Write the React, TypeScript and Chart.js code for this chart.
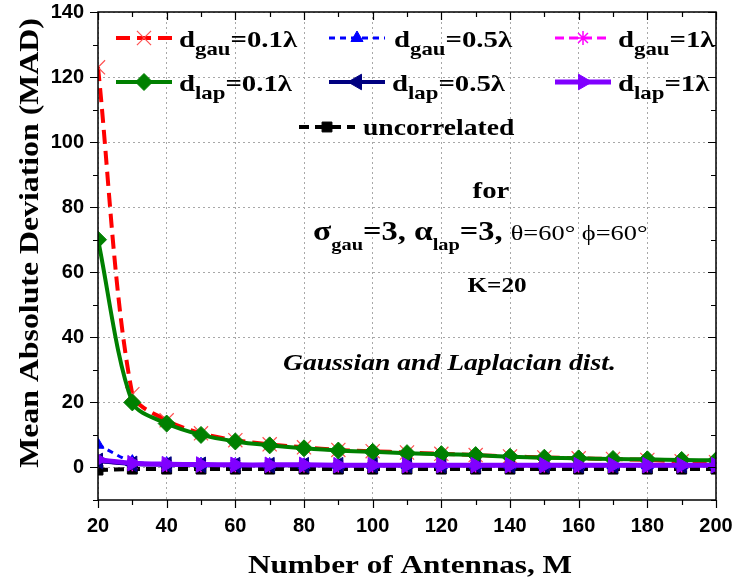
import React, { useEffect, useRef } from 'react';
import { Chart, registerables } from 'chart.js';
import { drawPoint } from 'chart.js/helpers';

Chart.register(...registerables);

// ---------------- data ----------------
const antennas = [20, 30, 40, 50, 60, 70, 80, 90, 100, 110, 120, 130, 140, 150, 160, 170, 180, 190, 200];

const gau01 = [123, 22.5, 14.5, 10.5, 8.4, 7.1, 6.2, 5.4, 5.0, 4.6, 4.2, 3.8, 3.4, 3.1, 2.8, 2.6, 2.3, 1.9, 1.6];
const gau05 = [7.0, 1.8, 1.2, 1.0, 0.9, 0.9, 0.8, 0.8, 0.8, 0.8, 0.7, 0.7, 0.7, 0.7, 0.7, 0.7, 0.7, 0.7, 0.7];
const gau1 = [1.8, 1.0, 0.8, 0.7, 0.7, 0.6, 0.6, 0.6, 0.6, 0.6, 0.6, 0.6, 0.6, 0.6, 0.6, 0.6, 0.6, 0.6, 0.6];
const lap01 = [70, 20, 13.5, 10, 8, 6.8, 5.9, 5.2, 4.8, 4.4, 4.1, 3.8, 3.3, 3.0, 2.8, 2.6, 2.5, 2.3, 2.2];
const lap05 = [2.0, 1.1, 0.9, 0.8, 0.7, 0.7, 0.7, 0.7, 0.7, 0.7, 0.7, 0.7, 0.7, 0.7, 0.7, 0.7, 0.7, 0.7, 0.7];
const lap1 = [2.4, 1.3, 1.0, 0.9, 0.8, 0.8, 0.8, 0.7, 0.7, 0.7, 0.7, 0.7, 0.7, 0.7, 0.7, 0.7, 0.7, 0.7, 0.7];
const uncorr = [-0.8, -0.5, -0.5, -0.5, -0.5, -0.5, -0.5, -0.5, -0.5, -0.5, -0.5, -0.5, -0.5, -0.5, -0.5, -0.5, -0.5, -0.5, -0.5];

const xTicks = [20, 40, 60, 80, 100, 120, 140, 160, 180, 200];
const yTicks = [0, 20, 40, 60, 80, 100, 120, 140];
const X_MIN = 20, X_MAX = 200, Y_MIN = -10, Y_MAX = 140;

const xTitle = 'Number of Antennas, M';
const yTitle = 'Mean Absolute Deviation (MAD)';

// ---------------- styles ----------------
const SERIF = '"Liberation Serif", "Times New Roman", serif';
const SANS = '"Liberation Sans", Arial, sans-serif';
const SX = 1.2; // horizontal stretch of text in the reference

type Series = {
  sub: string; rest: string; data: number[]; color: string; markFill: string; markColor: string;
  markBorder: number; dash: number[]; width: number; style: string; radius: number; rot: number; order: number;
};

const series: Series[] = [
  { sub: 'gau', rest: '=0.1λ', data: gau01, color: '#ff0000', markFill: 'rgba(0,0,0,0)', markColor: '#ff5050', markBorder: 1.2, dash: [14, 7], width: 4, style: 'crossRot', radius: 10, rot: 0, order: 6 },
  { sub: 'gau', rest: '=0.5λ', data: gau05, color: '#0000ff', markFill: '#0000ff', markColor: '#0000ff', markBorder: 1, dash: [6, 5], width: 3, style: 'triangle', radius: 7, rot: 0, order: 4 },
  { sub: 'gau', rest: '=1λ', data: gau1, color: '#ff00ff', markFill: '#ff00ff', markColor: '#ff00ff', markBorder: 1.5, dash: [9, 5], width: 3, style: 'star', radius: 7, rot: 0, order: 3 },
  { sub: 'lap', rest: '=0.1λ', data: lap01, color: '#008000', markFill: '#008000', markColor: '#008000', markBorder: 1, dash: [], width: 4, style: 'rectRot', radius: 8.5, rot: 0, order: 1 },
  { sub: 'lap', rest: '=0.5λ', data: lap05, color: '#000080', markFill: '#000080', markColor: '#000080', markBorder: 1, dash: [], width: 4, style: 'triangle', radius: 9, rot: -90, order: 2 },
  { sub: 'lap', rest: '=1λ', data: lap1, color: '#8000ff', markFill: '#8000ff', markColor: '#8000ff', markBorder: 1, dash: [], width: 5, style: 'triangle', radius: 9, rot: 90, order: 0 },
  { sub: '', rest: 'uncorrelated', data: uncorr, color: '#000000', markFill: '#000000', markColor: '#000000', markBorder: 1, dash: [10, 6], width: 4, style: 'rect', radius: 7, rot: 0, order: 5 },
];

// legend slot positions (line start x, line y, text x)
const legendSlots = [
  { x: 116, y: 38, tx: 179 },
  { x: 329, y: 38, tx: 394 },
  { x: 555, y: 38, tx: 618 },
  { x: 116, y: 82, tx: 179 },
  { x: 329, y: 82, tx: 392 },
  { x: 555, y: 82, tx: 618 },
  { x: 299, y: 127, tx: 363 },
];

type Run = { t: string; font: string; dy?: number };

function measureRuns(ctx: CanvasRenderingContext2D, parts: Run[]) {
  let total = 0;
  for (const p of parts) {
    ctx.font = p.font;
    total += ctx.measureText(p.t).width * SX;
  }
  return total;
}

function drawRuns(ctx: CanvasRenderingContext2D, parts: Run[], x: number, y: number, align: 'left' | 'center' = 'left') {
  const total = measureRuns(ctx, parts);
  let cx = align === 'center' ? x - total / 2 : x;
  ctx.textAlign = 'left';
  ctx.textBaseline = 'alphabetic';
  for (const p of parts) {
    ctx.font = p.font;
    const w = ctx.measureText(p.t).width * SX;
    ctx.save();
    ctx.translate(cx, y + (p.dy || 0));
    ctx.scale(SX, 1);
    ctx.fillText(p.t, 0, 0);
    ctx.restore();
    cx += w;
  }
  return total;
}

const decorPlugin = {
  id: 'decor',
  afterDraw(chart: any) {
    const ctx: CanvasRenderingContext2D = chart.ctx;
    const { left, right, top, bottom } = chart.chartArea;
    const xs = chart.scales.x;
    const ys = chart.scales.y;
    ctx.save();
    // frame
    ctx.setLineDash([]);
    ctx.strokeStyle = '#000';
    ctx.lineWidth = 1.5;
    ctx.strokeRect(left, top, right - left, bottom - top);
    // tick marks
    ctx.lineWidth = 1.2;
    ctx.beginPath();
    for (let v = X_MIN; v <= X_MAX; v += 10) {
      const px = Math.round(xs.getPixelForValue(v)) + 0.5;
      const len = v % 20 === 0 ? 8 : 5;
      ctx.moveTo(px, bottom); ctx.lineTo(px, bottom + len);
      ctx.moveTo(px, top); ctx.lineTo(px, top + len);
    }
    for (let v = Y_MIN; v <= Y_MAX; v += 10) {
      const py = Math.round(ys.getPixelForValue(v)) + 0.5;
      const len = v % 20 === 0 ? 8 : 5;
      ctx.moveTo(left - len, py); ctx.lineTo(left, py);
      ctx.moveTo(right - len, py); ctx.lineTo(right, py);
    }
    ctx.stroke();

    ctx.fillStyle = '#000';
    // axis titles
    drawRuns(ctx, [{ t: xTitle, font: `bold 26px ${SERIF}` }], 410, 573, 'center');
    ctx.save();
    ctx.translate(38, 243);
    ctx.rotate(-Math.PI / 2);
    drawRuns(ctx, [{ t: yTitle, font: `bold 26.5px ${SERIF}` }], 0, 0, 'center');
    ctx.restore();

    // legend
    series.forEach((s, i) => {
      const slot = legendSlots[i];
      ctx.save();
      ctx.strokeStyle = s.color;
      ctx.lineWidth = s.width;
      ctx.setLineDash(s.dash);
      ctx.beginPath();
      ctx.moveTo(slot.x, slot.y);
      ctx.lineTo(slot.x + 56, slot.y);
      ctx.stroke();
      ctx.setLineDash([]);
      ctx.fillStyle = s.markFill;
      ctx.strokeStyle = s.markColor;
      ctx.lineWidth = s.markBorder;
      drawPoint(ctx, { pointStyle: s.style as any, rotation: s.rot, radius: s.radius, borderWidth: s.markBorder }, slot.x + 28, slot.y);
      ctx.restore();
      ctx.fillStyle = '#000';
      if (s.sub) {
        drawRuns(ctx, [
          { t: 'd', font: `bold 24px ${SERIF}` },
          { t: s.sub, font: `bold 19px ${SERIF}`, dy: 8 },
          { t: s.rest, font: `bold 24px ${SERIF}` },
        ], slot.tx, slot.y + 9);
      } else {
        drawRuns(ctx, [{ t: s.rest, font: `bold 23px ${SERIF}` }], slot.tx, slot.y + 8);
      }
    });

    // annotations
    ctx.fillStyle = '#000';
    drawRuns(ctx, [{ t: 'for', font: `bold 24px ${SERIF}` }], 491, 198, 'center');
    drawRuns(ctx, [
      { t: 'σ', font: `bold 28px ${SERIF}` },
      { t: 'gau', font: `bold 17px ${SERIF}`, dy: 10 },
      { t: '=3, ', font: `bold 27px ${SERIF}` },
      { t: 'α', font: `bold 28px ${SERIF}` },
      { t: 'lap', font: `bold 17px ${SERIF}`, dy: 10 },
      { t: '=3, ', font: `bold 27px ${SERIF}` },
      { t: 'θ=60° ϕ=60°', font: `22px ${SERIF}` },
    ], 313, 240);
    drawRuns(ctx, [{ t: 'K=20', font: `bold 21px ${SERIF}` }], 497, 292, 'center');
    drawRuns(ctx, [{ t: 'Gaussian and Laplacian dist.', font: `italic bold 23px ${SERIF}` }], 283, 370);
    ctx.restore();
  },
};

function zeroPad(scale: any) {
  scale.paddingTop = 0;
  scale.paddingBottom = 0;
  scale.paddingLeft = 0;
  scale.paddingRight = 0;
}

export default function App() {
  const ref = useRef<HTMLCanvasElement | null>(null);
  useEffect(() => {
    if (!ref.current) return;
    const chart = new Chart(ref.current, {
      type: 'line',
      data: {
        datasets: series.map((s) => ({
          label: s.sub ? `d${s.sub}${s.rest}` : s.rest,
          data: antennas.map((x, i) => ({ x, y: s.data[i] })),
          borderColor: s.color,
          backgroundColor: s.markFill,
          borderWidth: s.width,
          borderDash: s.dash,
          pointStyle: s.style as any,
          pointRadius: s.radius,
          pointRotation: s.rot,
          pointBackgroundColor: s.markFill,
          pointBorderColor: s.markColor,
          pointBorderWidth: s.markBorder,
          tension: 0.3,
          order: s.order,
          clip: 0,
          fill: false,
        })),
      },
      options: {
        responsive: false,
        animation: false,
        layout: { autoPadding: false, padding: { top: 12, right: 19, left: 0, bottom: 0 } },
        plugins: { legend: { display: false }, tooltip: { enabled: false } },
        scales: {
          x: {
            type: 'linear',
            min: X_MIN,
            max: X_MAX,
            afterBuildTicks: (scale: any) => { scale.ticks = xTicks.map((v) => ({ value: v })); },
            afterFit: (scale: any) => { scale.height = 78; zeroPad(scale); },
            grid: { color: '#a8a8a8', lineWidth: 1, drawTicks: false },
            border: { display: false, dash: [2, 3] },
            ticks: { padding: 14, color: '#000', font: { family: SANS, size: 20, weight: 'bold' }, maxRotation: 0, autoSkip: false },
          },
          y: {
            type: 'linear',
            min: Y_MIN,
            max: Y_MAX,
            afterBuildTicks: (scale: any) => { scale.ticks = yTicks.map((v) => ({ value: v })); },
            afterFit: (scale: any) => { scale.width = 98; zeroPad(scale); },
            grid: { color: '#a8a8a8', lineWidth: 1, drawTicks: false },
            border: { display: false, dash: [2, 3] },
            ticks: { padding: 14, color: '#000', font: { family: SANS, size: 20, weight: 'bold' }, autoSkip: false },
          },
        },
      },
      plugins: [decorPlugin],
    } as any);
    return () => chart.destroy();
  }, []);
  return (
    <div style={{ position: 'fixed', left: 0, top: 0, width: 735, height: 578, background: '#fff' }}>
      <canvas ref={ref} width={735} height={578} style={{ display: 'block' }} />
    </div>
  );
}
